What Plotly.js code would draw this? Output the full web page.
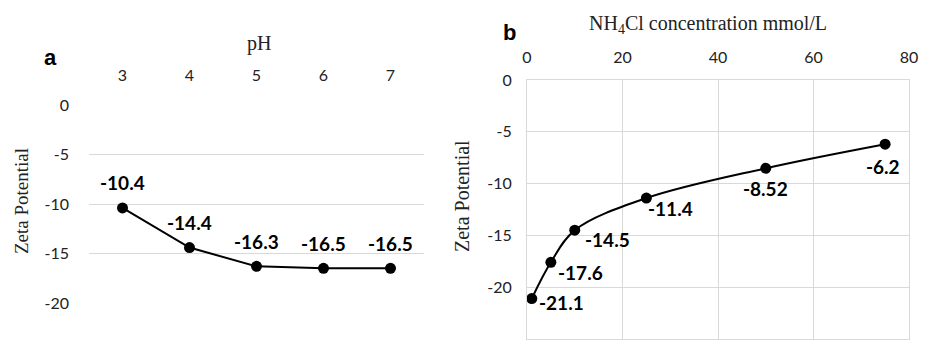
<!DOCTYPE html>
<html>
<head>
<meta charset="utf-8">
<script src="https://cdn.plot.ly/plotly-3.0.1.min.js"></script>
<style>html,body{margin:0;padding:0;background:#fff;}#chart{width:932px;height:346px;}</style>
</head>
<body>
<div id="chart"></div>
<script>
// Panel a: zeta potential vs pH
const phValues = [3, 4, 5, 6, 7];
const zetaPH = [-10.4, -14.4, -16.3, -16.5, -16.5];
const zetaPHLabels = ["-10.4", "-14.4", "-16.3", "-16.5", "-16.5"];
const phTicks = [3, 4, 5, 6, 7];
const zetaTicksA = [0, -5, -10, -15, -20];

// Panel b: zeta potential vs NH4Cl concentration
const nh4clConc = [1, 5, 10, 25, 50, 75];
const zetaNH4Cl = [-21.1, -17.6, -14.5, -11.4, -8.52, -6.2];
const zetaNH4ClLabels = ["-21.1", "-17.6", "-14.5", "-11.4", "-8.52", "-6.2"];
const concTicks = [0, 20, 40, 60, 80];
const zetaTicksB = [0, -5, -10, -15, -20, -25];

const tickFont = {family: "Lato, 'Open Sans', sans-serif", size: 16, color: "#222"};
const labelFont = {family: "Lato, 'Open Sans', sans-serif", size: 19, color: "#000", weight: "bold"};
const titleFont = {family: "'Liberation Serif', 'DejaVu Serif', serif", size: 20, color: "#222"};
const gridColor = "#d9d9d9";

// label placement for panel b (style only): horizontal anchor and pixel shifts
const bLabelAnchor = ["left", "left", "left", "left", "center", "center"];
const bLabelDx = [5, 5, 8, 0, 0, -2];
const bLabelDy = [-4, -10, -9, -10, -20, -22];

const traces = [
  {
    x: phValues, y: zetaPH,
    type: "scatter", mode: "lines+markers",
    line: {color: "#000", width: 2},
    marker: {color: "#000", size: 11},
    xaxis: "x", yaxis: "y", cliponaxis: false, hoverinfo: "x+y"
  },
  {
    x: nh4clConc, y: zetaNH4Cl,
    type: "scatter", mode: "lines+markers",
    line: {color: "#000", width: 2, shape: "spline", smoothing: 1},
    marker: {color: "#000", size: 11},
    xaxis: "x2", yaxis: "y2", cliponaxis: false, hoverinfo: "x+y"
  }
];

const annotations = [
  {text: "a", x: 50/932, y: 1 - 57/346, xref: "paper", yref: "paper", xanchor: "center", yanchor: "middle", showarrow: false,
   font: {family: "'Liberation Sans', Arial, sans-serif", size: 22, color: "#000", weight: "bold"}},
  {text: "b", x: 509/932, y: 1 - 33/346, xref: "paper", yref: "paper", xanchor: "center", yanchor: "middle", showarrow: false,
   font: {family: "'Liberation Sans', Arial, sans-serif", size: 22, color: "#000", weight: "bold"}},
  {text: "pH", x: 259/932, y: 1 - 43/346, xref: "paper", yref: "paper", xanchor: "center", yanchor: "middle", showarrow: false, font: titleFont},
  {text: "NH<sub>4</sub>Cl concentration mmol/L", x: 708/932, y: 1 - 25/346, xref: "paper", yref: "paper", xanchor: "center", yanchor: "middle", showarrow: false, font: titleFont},
  {text: "Zeta Potential", x: 21/932, y: 1 - 201/346, xref: "paper", yref: "paper", xanchor: "center", yanchor: "middle", showarrow: false, textangle: -90,
   font: {family: titleFont.family, size: 19, color: "#222"}},
  {text: "Zeta Potential", x: 462/932, y: 1 - 196/346, xref: "paper", yref: "paper", xanchor: "center", yanchor: "middle", showarrow: false, textangle: -90,
   font: {family: titleFont.family, size: 20, color: "#222"}}
];
phValues.forEach((p, i) => {
  annotations.push({
    text: zetaPHLabels[i], x: p, y: zetaPH[i], xref: "x", yref: "y",
    xanchor: "center", yanchor: "middle", yshift: 25,
    showarrow: false, font: labelFont
  });
});
nh4clConc.forEach((c, i) => {
  annotations.push({
    text: zetaNH4ClLabels[i], x: c, y: zetaNH4Cl[i], xref: "x2", yref: "y2",
    xanchor: bLabelAnchor[i], yanchor: "middle", xshift: bLabelDx[i], yshift: bLabelDy[i],
    showarrow: false, font: labelFont
  });
});

const layout = {
  width: 932, height: 346,
  margin: {l: 0, r: 0, t: 0, b: 0},
  paper_bgcolor: "#fff", plot_bgcolor: "#fff",
  showlegend: false,
  xaxis: {
    domain: [89/932, 424/932], range: [2.5, 7.5], side: "top",
    tickvals: phTicks, ticktext: phTicks.map(String),
    showgrid: false, zeroline: false, showline: false, ticks: "",
    tickfont: tickFont, ticklabelstandoff: 20, anchor: "y", automargin: false
  },
  yaxis: {
    domain: [1 - 303/346, 1 - 105/346], range: [-20, 0],
    tickvals: zetaTicksA, ticktext: zetaTicksA.map(String),
    showgrid: true, gridcolor: gridColor, gridwidth: 1, zeroline: false, showline: false, ticks: "",
    tickfont: tickFont, ticklabelstandoff: 19, anchor: "x", automargin: false
  },
  xaxis2: {
    domain: [527/932, 909/932], range: [0, 80], side: "top",
    tickvals: concTicks, ticktext: concTicks.map(String),
    showgrid: true, gridcolor: gridColor, gridwidth: 1, zeroline: false,
    showline: true, mirror: true, linecolor: gridColor, linewidth: 1, ticks: "",
    tickfont: tickFont, ticklabelstandoff: 10, anchor: "y2", automargin: false
  },
  yaxis2: {
    domain: [1 - 339/346, 1 - 80/346], range: [-25, 0],
    tickvals: zetaTicksB, ticktext: zetaTicksB.map(String),
    showgrid: true, gridcolor: gridColor, gridwidth: 1, zeroline: false,
    showline: true, mirror: true, linecolor: gridColor, linewidth: 1, ticks: "",
    tickfont: tickFont, ticklabelstandoff: 11, anchor: "x2", automargin: false
  },
  annotations: annotations
};

Plotly.newPlot("chart", traces, layout, {displayModeBar: false, staticPlot: true});
</script>
</body>
</html>
